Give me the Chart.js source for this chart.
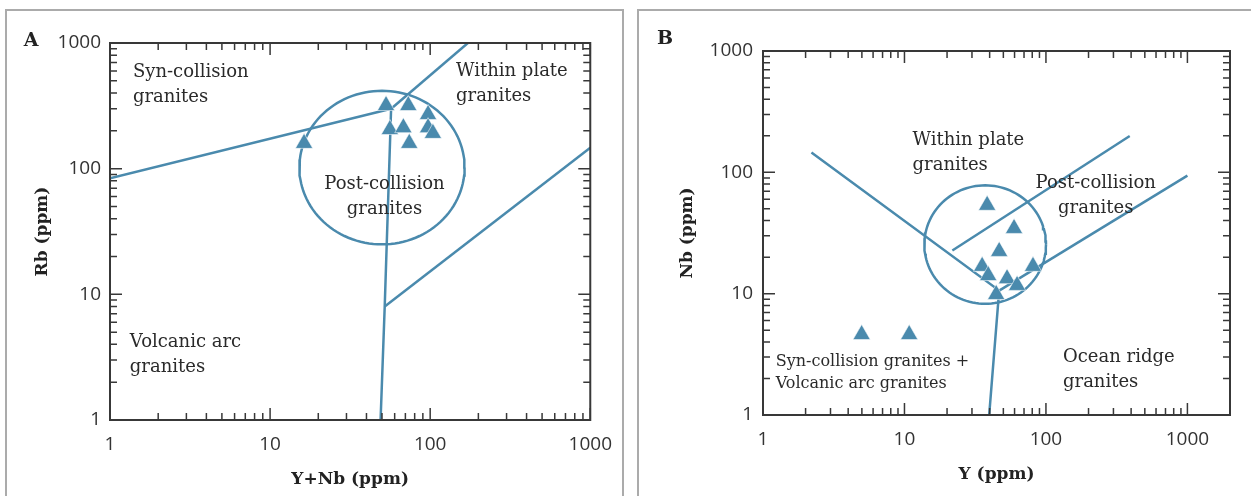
<!DOCTYPE html>
<html><head><meta charset="utf-8">
<script src="https://cdn.jsdelivr.net/npm/chart.js@4.4.1/dist/chart.umd.min.js"></script>
<style>
html,body{margin:0;padding:0;background:#fff;width:1251px;height:496px;overflow:hidden;position:relative}
.frame{position:absolute;border:2px solid #ababab;box-sizing:border-box}
#fa{left:5px;top:9px;width:619px;height:600px}
#fb{left:637px;top:9px;width:700px;height:600px}
canvas{position:absolute;top:0}
#ca{left:0}
#cb{left:638px}
</style></head><body>
<div class="frame" id="fa"></div><div class="frame" id="fb"></div>
<canvas id="ca" width="625" height="496"></canvas>
<canvas id="cb" width="613" height="496"></canvas>
<script>
// ---------- data ----------
const tickValues = [1, 10, 100, 1000];
const tickLabels = ['1', '10', '100', '1000'];

// Panel A: Rb vs Y+Nb
const aSampleX = [53, 73, 97, 56, 68, 97, 104, 74, 16.3];
const aSampleY = [318, 318, 270, 205, 212, 212, 191, 159, 159];
const aSynVagX = [1, 57];
const aSynVagY = [84, 300];
const aWpgSynX = [57, 172];
const aWpgSynY = [300, 1000];
const aVagOrgX = [57, 52, 49];
const aVagOrgY = [300, 8, 1];
const aWpgOrgX = [52, 1000];
const aWpgOrgY = [8, 147];
const aCircle = {cx: 50, cy: 102, rx: 0.516, ry: 0.611}; // centre in ppm, radii in decades

// Panel B: Nb vs Y
const bSampleX = [38.4, 59.5, 46.7, 35.4, 39.1, 53.1, 62.5, 81, 44.5, 4.98, 10.8];
const bSampleY = [53.5, 34.5, 22.3, 16.8, 14.1, 13.3, 11.7, 16.8, 9.85, 4.6, 4.6];
const bWpgVagX = [2.2, 46.7, 39.7];
const bWpgVagY = [146, 10.6, 1];
const bOrgX = [46.7, 1000];
const bOrgY = [10.6, 94];
const bInnerX = [21.8, 391];
const bInnerY = [22.7, 199];
const bCircle = {cx: 37.2, cy: 25.4, rx: 0.43, ry: 0.488};

// field labels (data coordinates of first line)
const aLabels = [
  {lines: ['Syn-collision', 'granites'], x: 1.39, y: 589, align: 'left'},
  {lines: ['Within plate', 'granites'], x: 145, y: 600, align: 'left'},
  {lines: ['Post-collision', 'granites'], x: 51.8, y: 74.6, align: 'center'},
  {lines: ['Volcanic arc', 'granites'], x: 1.33, y: 4.16, align: 'left'}
];
const bLabels = [
  {lines: ['Within plate', 'granites'], x: 11.4, y: 184, align: 'left'},
  {lines: ['Post-collision', 'granites'], x: 225, y: 81.1, align: 'center'},
  {lines: ['Syn-collision granites +', 'Volcanic arc granites'], x: 1.23, y: 2.74, align: 'left', small: true},
  {lines: ['Ocean ridge', 'granites'], x: 132, y: 3.01, align: 'left'}
];

// ---------- styling ----------
const BLUE = '#4a8aad';
const AXIS = '#383838';

function pts(xs, ys) { return xs.map((x, i) => ({x: x, y: ys[i]})); }
function ellipse(c) {
  const out = [];
  const lx = Math.log10(c.cx), ly = Math.log10(c.cy);
  for (let i = 0; i <= 120; i++) {
    const t = i / 120 * 2 * Math.PI;
    out.push({x: Math.pow(10, lx + c.rx * Math.cos(t)), y: Math.pow(10, ly + c.ry * Math.sin(t))});
  }
  return out;
}
function lineDS(data) {
  return {data: data, showLine: true, borderColor: BLUE, borderWidth: 2.5, pointRadius: 0, fill: false, tension: 0, order: 1};
}
function sampleDS(xs, ys) {
  return {data: pts(xs, ys), showLine: false, pointStyle: 'triangle', pointRadius: 10,
    backgroundColor: BLUE, borderColor: 'rgba(255,255,255,0.55)', borderWidth: 1, order: 0};
}
function tickText(v) { const i = tickValues.findIndex(t => Math.abs(t - v) < 1e-6); return i >= 0 ? tickLabels[i] : ''; }

const framePlugin = {
  id: 'frameTicks',
  afterDatasetsDraw(chart) {
    const ctx = chart.ctx, a = chart.chartArea, xs = chart.scales.x, ys = chart.scales.y;
    ctx.save();
    ctx.strokeStyle = AXIS;
    ctx.lineWidth = 1.5;
    const MAJ = 12, MIN = 7;
    function each(scale, fn) {
      const lo = Math.floor(Math.log10(scale.min)), hi = Math.ceil(Math.log10(scale.max));
      for (let d = lo; d <= hi; d++) for (let m = 1; m <= 9; m++) {
        const v = m * Math.pow(10, d);
        if (v < scale.min - 1e-9 || v > scale.max + 1e-9) continue;
        fn(scale.getPixelForValue(v), m === 1 ? MAJ : MIN);
      }
    }
    ctx.beginPath();
    each(xs, (p, l) => {
      ctx.moveTo(p, a.bottom); ctx.lineTo(p, a.bottom - l);
      ctx.moveTo(p, a.top); ctx.lineTo(p, a.top + l);
    });
    each(ys, (p, l) => {
      ctx.moveTo(a.left, p); ctx.lineTo(a.left + l, p);
      ctx.moveTo(a.right, p); ctx.lineTo(a.right - l, p);
    });
    ctx.stroke();
    ctx.lineWidth = 2;
    ctx.strokeRect(a.left, a.top, a.right - a.left, a.bottom - a.top);
    ctx.restore();
  }
};

function labelPlugin(items, letter, lx, ly) {
  return {
    id: 'fieldLabels',
    afterDraw(chart) {
      const ctx = chart.ctx, xs = chart.scales.x, ys = chart.scales.y;
      ctx.save();
      ctx.fillStyle = '#2a2a2a';
      ctx.textBaseline = 'middle';
      items.forEach(it => {
        const size = it.small ? 16 : 18;
        const lh = it.small ? 22 : 25;
        ctx.font = size + 'px "DejaVu Serif"';
        ctx.textAlign = it.align;
        const px = xs.getPixelForValue(it.x), py = ys.getPixelForValue(it.y);
        it.lines.forEach((s, i) => ctx.fillText(s, px, py + i * lh));
      });
      ctx.font = 'bold 19px "DejaVu Serif"';
      ctx.textAlign = 'center';
      ctx.fillStyle = '#222';
      ctx.fillText(letter, lx, ly);
      ctx.restore();
    }
  };
}

function makeChart(id, c) {
  return new Chart(document.getElementById(id), {
    type: 'scatter',
    data: {datasets: c.datasets},
    options: {
      responsive: false, animation: false, events: [],
      layout: {padding: {left: 0, right: c.padRight, top: c.padTop, bottom: 0}},
      plugins: {legend: {display: false}, tooltip: {enabled: false}},
      scales: {
        x: {
          type: 'logarithmic', min: 1, max: c.xMax, position: 'bottom',
          grid: {display: false, drawTicks: false}, border: {display: false},
          ticks: {autoSkip: false, maxRotation: 0, minRotation: 0, padding: c.xTickPad,
            font: {family: 'Open Sans', size: 19}, color: '#333', callback: v => tickText(v)},
          title: {display: true, text: c.xTitle, color: '#222',
            font: {family: 'DejaVu Serif', size: 17, weight: 'bold'}, padding: {top: 0, bottom: c.xTitlePad}},
          afterFit: s => { s.height = c.xAxisH; }
        },
        y: {
          type: 'logarithmic', min: 1, max: 1000, position: 'left',
          grid: {display: false, drawTicks: false}, border: {display: false},
          ticks: {autoSkip: false, padding: c.yTickPad,
            font: {family: 'Open Sans', size: 19}, color: '#333', callback: v => tickText(v)},
          title: {display: true, text: c.yTitle, color: '#222',
            font: {family: 'DejaVu Serif', size: 17, weight: 'bold'}, padding: {top: c.yTitlePad, bottom: 0}},
          afterFit: s => { s.width = c.yAxisW; }
        }
      }
    },
    plugins: [framePlugin, c.labels]
  });
}

makeChart('ca', {
  datasets: [
    sampleDS(aSampleX, aSampleY),
    lineDS(pts(aSynVagX, aSynVagY)),
    lineDS(pts(aWpgSynX, aWpgSynY)),
    lineDS(pts(aVagOrgX, aVagOrgY)),
    lineDS(pts(aWpgOrgX, aWpgOrgY)),
    lineDS(ellipse(aCircle))
  ],
  xMax: 1000, padRight: 32, padTop: 43, xAxisH: 76, yAxisW: 110,
  xTickPad: 13, yTickPad: 9, xTitlePad: 6, yTitlePad: 32,
  xTitle: 'Y+Nb (ppm)', yTitle: 'Rb (ppm)',
  labels: labelPlugin(aLabels, 'A', 31, 41)
});

makeChart('cb', {
  datasets: [
    sampleDS(bSampleX, bSampleY),
    lineDS(pts(bWpgVagX, bWpgVagY)),
    lineDS(pts(bOrgX, bOrgY)),
    lineDS(pts(bInnerX, bInnerY)),
    lineDS(ellipse(bCircle))
  ],
  xMax: 2000, padRight: 21, padTop: 51, xAxisH: 81, yAxisW: 125,
  xTickPad: 13, yTickPad: 10, xTitlePad: 11, yTitlePad: 39,
  xTitle: 'Y (ppm)', yTitle: 'Nb (ppm)',
  labels: labelPlugin(bLabels, 'B', 27, 39)
});
</script>
</body></html>
